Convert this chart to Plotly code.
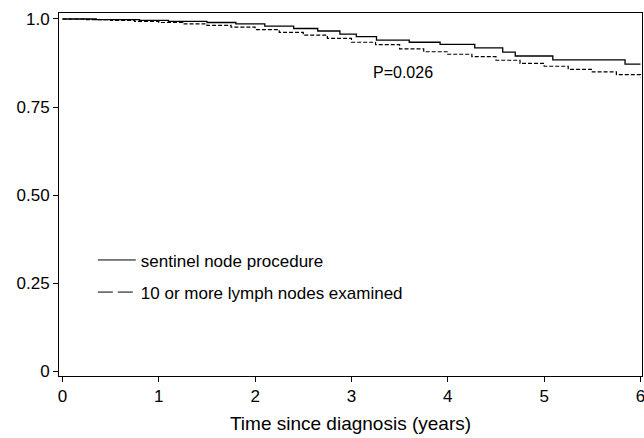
import plotly.graph_objects as go

# Kaplan-Meier style step data
sentinel_t = [0, 0.35, 0.8, 1.1, 1.5, 1.8, 2.1, 2.4, 2.65, 2.88, 3.05, 3.26, 3.6, 3.92, 4.28, 4.57, 4.7, 5.09, 5.84, 6.0]
sentinel_s = [1.0, 0.998, 0.996, 0.993, 0.990, 0.986, 0.980, 0.973, 0.966, 0.957, 0.950, 0.940, 0.934, 0.928, 0.918, 0.906, 0.895, 0.884, 0.872, 0.872]

ten_t = [0, 0.25, 0.5, 0.75, 1.0, 1.25, 1.5, 1.75, 2.0, 2.25, 2.5, 2.75, 3.0, 3.25, 3.5, 3.75, 4.0, 4.25, 4.5, 4.75, 5.0, 5.25, 5.5, 5.75, 6.0]
ten_s = [1.0, 0.998, 0.996, 0.993, 0.990, 0.986, 0.982, 0.977, 0.970, 0.962, 0.954, 0.945, 0.934, 0.927, 0.915, 0.907, 0.900, 0.893, 0.883, 0.874, 0.866, 0.857, 0.850, 0.842, 0.835]

series_names = ["sentinel node procedure", "10 or more lymph nodes examined"]
x_ticks = [0, 1, 2, 3, 4, 5, 6]
y_ticks = [0, 0.25, 0.5, 0.75, 1.0]
y_tick_labels = ["0", "0.25", "0.50", "0.75", "1.0"]
p_text = "P=0.026"

FONT = "Liberation Sans, Arial, sans-serif"

fig = go.Figure()
fig.add_trace(go.Scatter(x=sentinel_t, y=sentinel_s, mode="lines", line=dict(color="black", width=1.3, shape="hv"),
                         showlegend=False))
fig.add_trace(go.Scatter(x=ten_t, y=ten_s, mode="lines", line=dict(color="black", width=1.2, shape="hv", dash="4px,2px"),
                         showlegend=False))
# legend-only entries
fig.add_trace(go.Scatter(x=[None], y=[None], mode="lines", name=series_names[0],
                         line=dict(color="black", width=1), legendgroup="a"))
fig.add_trace(go.Scatter(x=[None], y=[None], mode="lines", name=series_names[1],
                         line=dict(color="black", width=1, dash="15px,5px"), legendgroup="b"))

fig.add_annotation(x=3.53, y=0.847, text=p_text, showarrow=False, font=dict(size=16, color="black", family=FONT))

fig.update_layout(
    width=644, height=438,
    margin=dict(l=59, r=2, t=13, b=62, autoexpand=False),
    paper_bgcolor="white", plot_bgcolor="white",
    font=dict(family=FONT, size=17, color="black"),
    legend=dict(x=0.058, y=0.368, xanchor="left", yanchor="top", bgcolor="rgba(0,0,0,0)",
                font=dict(size=17, family=FONT), tracegroupgap=7, itemwidth=38),
    xaxis=dict(range=[-0.036, 6.016], tickvals=x_ticks, ticks="outside", ticklen=5, tickcolor="black",
               showline=True, linecolor="black", linewidth=1, mirror=True, showgrid=False, zeroline=False,
               automargin=False, ticklabeloverflow="allow",
               title=dict(text="Time since diagnosis (years)", font=dict(size=19, family=FONT), standoff=11),
               tickfont=dict(size=17)),
    yaxis=dict(range=[-0.0128, 1.017], tickvals=y_ticks, ticktext=y_tick_labels, ticks="outside", ticklen=5,
               tickcolor="black", showline=True, linecolor="black", linewidth=1, mirror=True,
               automargin=False, ticklabeloverflow="allow",
               showgrid=False, zeroline=False, tickfont=dict(size=17)),
)

fig.write_html("out.html", config={"displayModeBar": False},
               post_script="document.body.style.margin='0';document.body.style.overflow='hidden';")
